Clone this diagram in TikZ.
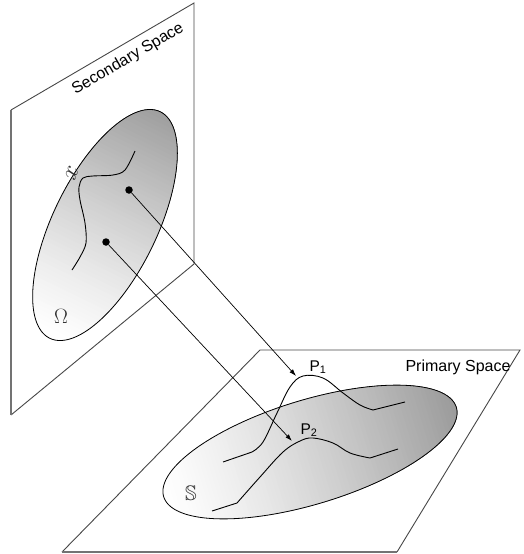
\documentclass[tikz,border=0pt]{standalone}
\usepackage{fontspec}
\usepackage{amssymb}
\newfontfamily\labelfont{Liberation Sans}
\usetikzlibrary{arrows.meta}
\begin{document}
\begin{tikzpicture}[x=1pt,y=-1pt,
  frame/.style={draw=black!72, line width=0.9pt, line join=miter},
  rim/.style={draw=black!55, line width=1.3pt},
  curve/.style={draw=black, line width=0.9pt},
  ray/.style={draw=black, line width=0.7pt, -{Latex[length=7pt,width=4.5pt]}},
  dot/.style={circle, fill=black, inner sep=0pt, minimum size=7.5pt},
  sanslabel/.style={font=\labelfont\fontsize{16}{19}\selectfont, inner sep=0pt},
  plabel/.style={font=\labelfont\fontsize{15.5}{18}\selectfont, inner sep=0pt, anchor=base},
  symlabel/.style={font=\fontsize{21}{21}\selectfont, inner sep=0pt, text=black!80},
  outline/.style={draw=black, line width=0.8pt}]
\useasboundingbox (0,0) rectangle (523,554);

% secondary space: vertical plane
\draw[frame] (11,110) -- (194,3) -- (194,264) -- (11,415);
\draw[rim] (11,110) -- (11,415);

% primary space: ground plane
\draw[frame] (62,552) -- (260,350) -- (520,350) -- (397,552);
\draw[rim] (62,552) -- (397,552);

% domain Omega: tilted ellipse, grey ramp along its long axis
\begin{scope}
  \clip plot[domain=0:360, samples=180, variable=\t]
    ({105 + 55.24*cos(\t) + 46.74*sin(\t)}, {225 - 113.25*cos(\t) + 22.80*sin(\t)}) -- cycle;
  \foreach \i in {0,...,63} {
    \pgfmathsetmacro\s{-128 + 4*\i}
    \pgfmathsetmacro\g{38*(\i/63)^1.25}
    \fill[black!\g]
      ({105 + 0.4384*\s + 62.92}, {225 - 0.8988*\s + 30.69}) --
      ({105 + 0.4384*\s - 62.92}, {225 - 0.8988*\s - 30.69}) --
      ({105 + 0.4384*130 - 62.92}, {225 - 0.8988*130 - 30.69}) --
      ({105 + 0.4384*130 + 62.92}, {225 - 0.8988*130 + 30.69}) -- cycle;
  }
\end{scope}
\draw[outline] plot[domain=0:360, samples=180, variable=\t]
  ({105 + 55.24*cos(\t) + 46.74*sin(\t)}, {225 - 113.25*cos(\t) + 22.80*sin(\t)}) -- cycle;

% domain S: tilted ellipse, grey ramp along its long axis
\begin{scope}
  \clip plot[domain=0:360, samples=180, variable=\t]
    ({310 + 146.3*cos(\t) + 15.20*sin(\t)}, {452 - 44.74*cos(\t) + 49.73*sin(\t)}) -- cycle;
  \foreach \i in {0,...,78} {
    \pgfmathsetmacro\s{-156 + 4*\i}
    \pgfmathsetmacro\g{40*(\i/78)^1.25}
    \fill[black!\g]
      ({310 + 0.9563*\s + 20.47}, {452 - 0.2924*\s + 66.94}) --
      ({310 + 0.9563*\s - 20.47}, {452 - 0.2924*\s - 66.94}) --
      ({310 + 0.9563*160 - 20.47}, {452 - 0.2924*160 - 66.94}) --
      ({310 + 0.9563*160 + 20.47}, {452 - 0.2924*160 + 66.94}) -- cycle;
  }
\end{scope}
\draw[outline] plot[domain=0:360, samples=180, variable=\t]
  ({310 + 146.3*cos(\t) + 15.20*sin(\t)}, {452 - 44.74*cos(\t) + 49.73*sin(\t)}) -- cycle;

% curve in the secondary space
\draw[curve] plot[smooth, tension=0.55] coordinates {(72,270) (80,257) (86,243) (85,223) (80,200) (79,187) (83,178) (93,176) (113,175) (125,170) (135,151)};

% images in the primary space
\draw[curve] (223,462) -- plot[smooth, tension=0.6] coordinates {(252,452) (263,442) (277,413) (290,387) (303,376) (323,378) (343,393) (360,405) (373,410)} -- (405,402);
\draw[curve] (212,511) -- plot[smooth, tension=0.6] coordinates {(237,503) (260,477) (283,452) (300,441) (313,438) (333,443) (350,453) (370,458)} -- (398,449);

% sample points and their mappings
\node[dot] (d1) at (129,190) {};
\node[dot] (d2) at (106,242) {};
\coordinate (t1) at (296,376);
\coordinate (t2) at (292,441);
\draw[ray] (d1) -- (t1);
\draw[ray] (d2) -- (t2);

% labels
\node[sanslabel, rotate=30.5] (sec) at (128,59) {Secondary Space};
\node[sanslabel, anchor=base] (pri) at (458,371) {Primary Space};
\node[plabel] (p1) at (318,371) {P\textsubscript{1}};
\node[plabel] (p2) at (309,434) {P\textsubscript{2}};
\node[symlabel] (om) at (61,316) {$\Omega$};
\node[symlabel] (ss) at (191,493) {$\mathbb{S}$};
\node[symlabel, font=\fontsize{27}{27}\selectfont, rotate=70] (xl) at (72,173) {$x$};
\end{tikzpicture}
\end{document}
